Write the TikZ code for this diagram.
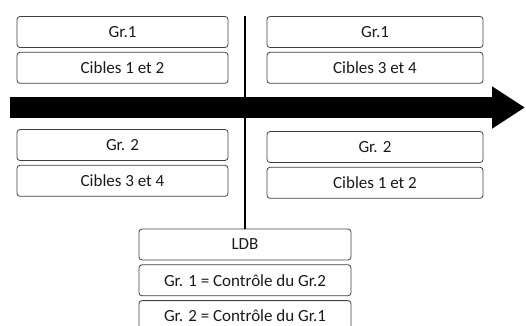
\documentclass[tikz,border=0pt]{standalone}
\usepackage{fontspec}
\setmainfont{Carlito}
\usepackage{xcolor}
\usepackage{tikz}
\usetikzlibrary{
  arrows.meta,
  positioning
}
\definecolor{boxline}{HTML}{404040}
\definecolor{boxtext}{HTML}{1A1A1A}
\tikzset{
  grbox/.style={
    draw=boxline,
    rounded corners=3pt,
    line width=0.8pt,
    minimum height=31pt,
    inner sep=0pt,
    text=boxtext,
    font=\fontsize{17}{20}\selectfont},
  leftbox/.style={grbox, minimum width=211pt},
  rightbox/.style={grbox, minimum width=216pt},
  ldbbox/.style={grbox, minimum width=212pt}
  }

\begin{document}
\begin{tikzpicture}[x=1pt,y=-1pt]
      \clip (0,0) rectangle (526,325);
      % time axis
      \coordinate (tstart) at (10,107.5);
      \coordinate (tend) at (525,107.5);
      \draw[line width=21pt,-{Triangle[length=33pt,width=40pt]}] (tstart) -- (tend);
      % before LDB
      \node[leftbox] (grunl) at (122.5,32) {Gr.1};
      \node[leftbox, below=4pt of grunl] (cibunl) {Cibles 1 et 2};
      \node[leftbox] (grdeuxl) at (122.5,145) {Gr. 2};
      \node[leftbox, below=4pt of grdeuxl] (cibdeuxl) {Cibles 3 et 4};
      % after LDB
      \node[rightbox] (grunr) at (375,32) {Gr.1};
      \node[rightbox, below=4pt of grunr] (cibunr) {Cibles 3 et 4};
      \node[rightbox] (grdeuxr) at (375,147) {Gr. 2};
      \node[rightbox, below=4pt of grdeuxr] (cibdeuxr) {Cibles 1 et 2};
      % LDB
      \node[ldbbox] (ldb) at (245,244.5) {LDB};
      \node[ldbbox, below=4pt of ldb] (ctrlun) {Gr. 1 = Contrôle du Gr.2};
      \node[ldbbox, below=4pt of ctrlun] (ctrldeux) {Gr. 2 = Contrôle du Gr.1};
      \coordinate (vtop) at (245,16);
      \draw[line width=1.8pt] (vtop) -- (ldb.north);
    \end{tikzpicture}
\end{document}
